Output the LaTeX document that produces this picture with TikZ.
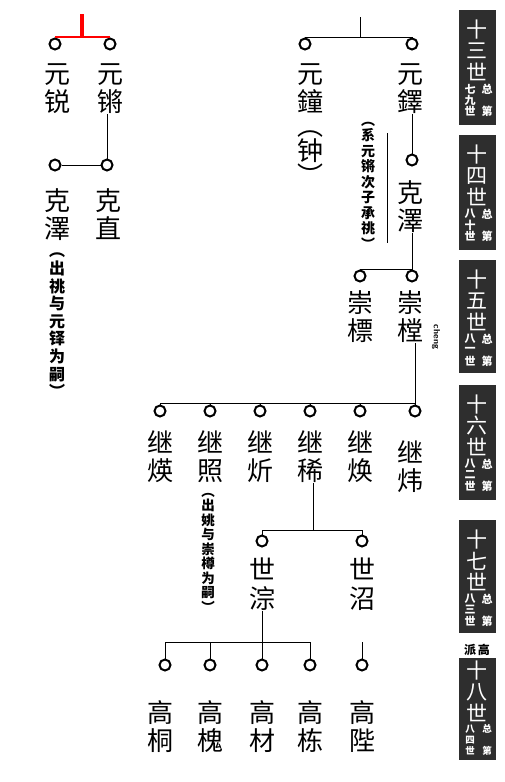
\documentclass[tikz,border=0pt]{standalone}
\usepackage{fontspec}
\newfontfamily\cjk{Noto Sans CJK SC}
\begin{document}
\begin{tikzpicture}[x=1pt,y=-1pt,
  nm/.style={font=\cjk\fontsize{26}{28.5}\selectfont, align=center, inner sep=0pt, anchor=north},
  note/.style={font=\cjk\bfseries\fontsize{14}{15.5}\selectfont, align=center, inner sep=0pt, anchor=north},
  dot/.style={circle, draw, line width=2pt, minimum size=11pt, inner sep=0pt},
  link/.style={line width=0.9pt},
  gbox/.style={fill=black!82, minimum width=37pt, inner sep=0pt},
  gbig/.style={font=\cjk\fontsize{21}{21}\selectfont, text=white, inner sep=0pt},
  gsmall/.style={font=\cjk\bfseries\fontsize{11}{11}\selectfont, text=white, inner sep=0pt},
  gsmaller/.style={font=\cjk\bfseries\fontsize{9.5}{9.5}\selectfont, text=white, inner sep=0pt},
  cheng/.style={font=\sffamily\bfseries\fontsize{9}{9}\selectfont, rotate=-90, inner sep=0pt}
]
\useasboundingbox (0,0) rectangle (505,782);
\newcommand\genbox[6]{%
  \node[gbox, minimum height=#3pt, anchor=north] (#1) at (477,#2) {};
  \node[gbig] (#1a) at (477,#2+20) {十};
  \node[gbig] (#1b) at (477,#2+41) {#4};
  \node[gbig] (#1c) at (477,#2+62) {世};
  \node[gsmall] (#1d) at (470,#2+79) {#5};
  \node[gsmall] (#1e) at (470,#2+90) {#6};
  \node[gsmall] (#1f) at (470,#2+101) {世};
  \node[gsmall] (#1g) at (487,#2+79) {总};
  \node[gsmall] (#1h) at (487,#2+101) {第};
}
% generation column
\genbox{g13}{10}{115}{三}{七}{九}
\genbox{g14}{135}{115}{四}{八}{十}
\genbox{g15}{260}{113}{五}{八}{一}
\genbox{g16}{385}{115}{六}{八}{二}
\genbox{g17}{520}{113}{七}{八}{三}
\node[gbox, minimum height=102pt, anchor=north] (g18) at (477,658) {};
\node[gbig] (g18a) at (477,671) {十};
\node[gbig] (g18b) at (477,692) {八};
\node[gbig] (g18c) at (477,713) {世};
\node[gsmaller] (g18d) at (470,729) {八};
\node[gsmaller] (g18e) at (470,740) {四};
\node[gsmaller] (g18f) at (470,751) {世};
\node[gsmaller] (g18g) at (487,729) {总};
\node[gsmaller] (g18h) at (487,751) {第};
\node[font=\cjk\bfseries\fontsize{12}{12}\selectfont, inner sep=0pt] (pai) at (477,650) {派\,高};

% ---------- left family ----------
\node[dot] (a1) at (55,44) {};
\node[dot] (a2) at (110,44) {};
\coordinate (abar) at (82,37);
\coordinate (atop) at (82,14);
\draw[red, line width=1.5pt] (a1.north |- abar) -- (a2.north |- abar);
\draw[red, line width=4pt] (atop) -- (abar);
\node[nm] (yrui) at (57,63) {元\\锐};
\node[nm] (yqiang) at (110,63) {元\\锵};
\node[dot] (b1) at (55,165) {};
\node[dot] (b2) at (107,165) {};
\draw[link] (b2.north |- yqiang.south) -- (b2.north);
\draw[link] (b1.east) -- (b1.east -| b2.west);
\node[nm] (kze1) at (57,188) {克\\澤};
\node[nm] (kzhi) at (108,188) {克\\直};
\node[note, font=\cjk\bfseries\fontsize{16}{17.6}\selectfont] (n1) at (57,253) {︵\\出\\祧\\与\\元\\铎\\为\\嗣\\︶};

% ---------- right family ----------
\node[dot] (r1) at (305,44) {};
\node[dot] (r2) at (412,44) {};
\coordinate (rbar) at (360,37);
\coordinate (rtop) at (360,17);
\draw[link] (r1.north) -- (r1.north |- rbar) -- (r2.north |- rbar) -- (r2.north);
\draw[link] (rtop) -- (rbar);
\node[nm] (yzhong) at (310,63) {元\\鐘};
\node[nm, font=\cjk\fontsize{26}{25}\selectfont] (zhong) at (310,130) {︵\\钟\\︶};
\node[nm] (yduo) at (410,63) {元\\鐸};
\node[dot] (k2) at (412,160) {};
\draw[link] (k2.north |- yduo.south) -- (k2.north);
\node[nm] (kze2) at (410,180) {克\\澤};
\node[note] (n2) at (368,122) {︵\\系\\元\\锵\\次\\子\\承\\祧\\︶};
\coordinate (sideA) at (387,133);
\coordinate (sideB) at (387,243);
\draw[link] (sideA) -- (sideB);

% gen 15
\node[dot] (c1) at (360,276) {};
\node[dot] (c2) at (412,276) {};
\coordinate (cbar) at (386,269);
\draw[link] (c1.north) -- (c1.north |- cbar) -- (c2.north |- cbar) -- (c2.north);
\draw[link] (c2.north |- kze2.south) -- (c2.north);
\node[nm] (cbiao) at (360,290) {崇\\標};
\node[nm] (ctang) at (410,290) {崇\\樘};
\node[cheng] (py) at (436,337) {cheng};

% gen 16
\node[dot] (d1) at (160,411) {};
\node[dot] (d2) at (210,411) {};
\node[dot] (d3) at (260,411) {};
\node[dot] (d4) at (310,411) {};
\node[dot] (d5) at (360,411) {};
\node[dot] (d6) at (415,411) {};
\coordinate (dbar) at (300,403);
\draw[link] (d1.north) -- (d1.north |- dbar) -- (d6.north |- dbar) -- (d6.north);
\foreach \i in {2,3,4,5} \draw[link] (d\i.north) -- (d\i.north |- dbar);
\draw[link] (d6.north |- ctang.south) -- (d6.north);
\node[nm] (j1) at (160,430) {继\\煐};
\node[nm] (j2) at (210,430) {继\\照};
\node[nm] (j3) at (260,430) {继\\炘};
\node[nm] (j4) at (310,430) {继\\稀};
\node[nm] (j5) at (360,430) {继\\焕};
\node[nm] (j6) at (410,440) {继\\炜};
\node[note, font=\cjk\bfseries\fontsize{13.5}{14.5}\selectfont] (n3) at (208,493) {︵\\出\\姚\\与\\崇\\樽\\为\\嗣\\︶};

% gen 17
\node[dot] (e1) at (262,541) {};
\node[dot] (e2) at (362,541) {};
\coordinate (ebar) at (313,530);
\draw[link] (e1.north) -- (e1.north |- ebar) -- (e2.north |- ebar) -- (e2.north);
\draw[link] (ebar |- j4.south) -- (ebar);
\node[nm] (s1) at (262,558) {世\\淙};
\node[nm] (s2) at (362,558) {世\\沼};

% gen 18
\node[dot] (f1) at (165,665) {};
\node[dot] (f2) at (210,665) {};
\node[dot] (f3) at (262,665) {};
\node[dot] (f4) at (310,665) {};
\node[dot] (f5) at (362,665) {};
\coordinate (fbar) at (262,642);
\coordinate (fbar5) at (362,642);
\draw[link] (f1.north) -- (f1.north |- fbar) -- (f4.north |- fbar) -- (f4.north);
\foreach \i in {2,3} \draw[link] (f\i.north) -- (f\i.north |- fbar);
\draw[link] (fbar |- s1.south) -- (fbar);
\draw[link] (fbar5) -- (f5.north);
\node[nm] (h1) at (160,700) {高\\桐};
\node[nm] (h2) at (210,700) {高\\槐};
\node[nm] (h3) at (262,700) {高\\材};
\node[nm] (h4) at (310,700) {高\\栋};
\node[nm] (h5) at (362,700) {高\\陛};
\end{tikzpicture}
\end{document}
